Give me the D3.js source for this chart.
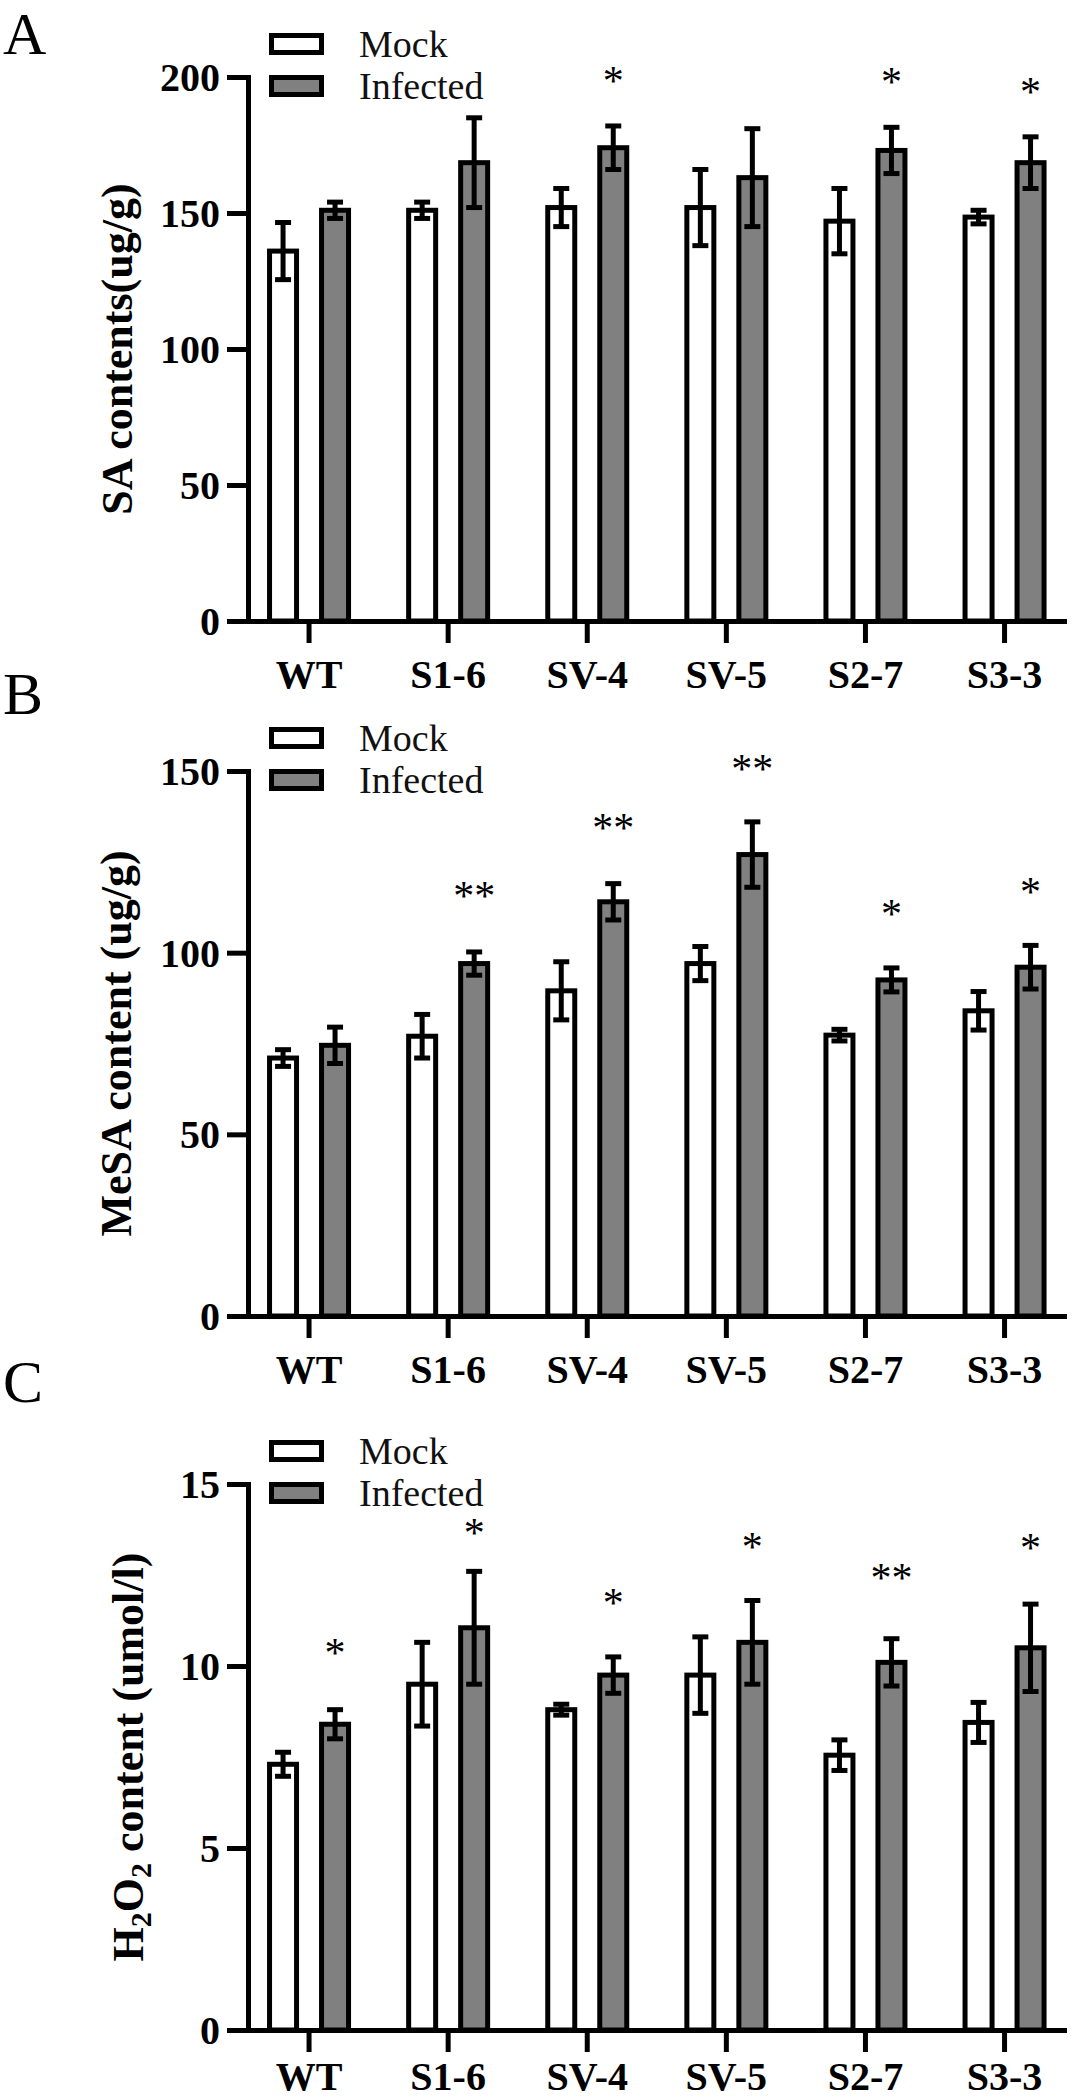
<!DOCTYPE html>
<html>
<head>
<meta charset="utf-8">
<script src="https://cdn.jsdelivr.net/npm/d3@7"></script>
<style>
  body { margin: 0; background: #fff; }
  svg { display: block; }
</style>
</head>
<body>
<div id="chart"></div>
<script>
// groups and series
var categories = ["WT", "S1-6", "SV-4", "SV-5", "S2-7", "S3-3"];
var series = ["Mock", "Infected"];

// A - SA contents (ug/g)
var saMock = [136, 151, 152, 152, 147, 148.5];
var saMockErr = [10.5, 3, 7, 14, 12, 2.5];
var saInfected = [151, 168.5, 174, 163, 173, 168.5];
var saInfectedErr = [3, 16.5, 8, 18, 8.5, 9.5];
var saStars = ["", "", "*", "", "*", "*"];
var saStarAt = [0, 0, 200.4, 0, 200, 196.3];
var saTicks = [0, 50, 100, 150, 200];

// B - MeSA content (ug/g)
var mesaMock = [71, 77, 89.5, 97, 77.3, 84];
var mesaMockErr = [2.3, 6, 8, 4.7, 1.6, 5.3];
var mesaInfected = [74.5, 97, 114, 127, 92.5, 96];
var mesaInfectedErr = [5, 3.2, 5, 9, 3.3, 6];
var mesaStars = ["", "**", "**", "**", "*", "*"];
var mesaStarAt = [0, 117.1, 135.7, 151.9, 112.1, 118.2];
var mesaTicks = [0, 50, 100, 150];

// C - H2O2 content (umol/l)
var h2o2Mock = [7.3, 9.5, 8.8, 9.75, 7.55, 8.45];
var h2o2MockErr = [0.33, 1.15, 0.15, 1.05, 0.42, 0.55];
var h2o2Infected = [8.4, 11.05, 9.75, 10.65, 10.1, 10.5];
var h2o2InfectedErr = [0.4, 1.55, 0.5, 1.15, 0.65, 1.2];
var h2o2Stars = ["*", "*", "*", "*", "**", "*"];
var h2o2StarAt = [10.49, 13.79, 11.87, 13.41, 12.55, 13.38];
var h2o2Ticks = [0, 5, 10, 15];

var serif = "'Liberation Serif', 'Times New Roman', Times, serif";
var fills = { "Mock": "#ffffff", "Infected": "#808080" };

var svg = d3.select("#chart")
  .append("svg")
    .attr("width", 1077)
    .attr("height", 2100);

var axisX = 248;      // y axis position
var barW = 27;

var x = d3.scaleBand()
  .domain(categories)
  .range([239.5, 1074.1]);

var x1 = d3.scaleBand()
  .domain(series)
  .range([-52, 52]);

var panels = [
  { letter: "A", letterY: 54, top: 77, zero: 621, labelY: 67, yMax: 200, ticks: saTicks,
    mock: saMock, mockErr: saMockErr, inf: saInfected, infErr: saInfectedErr,
    stars: saStars, starAt: saStarAt, titleX: 132,
    title: [{ t: "SA contents(ug/g)" }] },
  { letter: "B", letterY: 714, top: 771, zero: 1316, labelY: 67, yMax: 150, ticks: mesaTicks,
    mock: mesaMock, mockErr: mesaMockErr, inf: mesaInfected, infErr: mesaInfectedErr,
    stars: mesaStars, starAt: mesaStarAt, titleX: 131,
    title: [{ t: "MeSA content (ug/g)" }] },
  { letter: "C", letterY: 1402, top: 1484, zero: 2030, labelY: 60, yMax: 15, ticks: h2o2Ticks,
    mock: h2o2Mock, mockErr: h2o2MockErr, inf: h2o2Infected, infErr: h2o2InfectedErr,
    stars: h2o2Stars, starAt: h2o2StarAt, titleX: 143,
    title: [{ t: "H" }, { t: "2", sub: true }, { t: "O" }, { t: "2", sub: true }, { t: " content (umol/l)" }] }
];

panels.forEach(drawPanel);

function drawPanel(p) {
  var y = d3.scaleLinear()
    .domain([0, p.yMax])
    .range([p.zero, p.top]);

  var g = svg.append("g");

  var rows = categories.map(function(c, i) {
    return { cat: c, values: [
      { s: "Mock", v: p.mock[i], e: p.mockErr[i] },
      { s: "Infected", v: p.inf[i], e: p.infErr[i] }
    ] };
  });

  function cx(cat, s) {
    return x(cat) + x.bandwidth() / 2 + x1(s) + x1.bandwidth() / 2;
  }

  // bars
  var groups = g.selectAll(".grp")
    .data(rows)
    .enter()
    .append("g")
      .attr("class", "grp");

  groups.selectAll("rect")
    .data(function(d) { return d.values.map(function(v) { return Object.assign({ cat: d.cat }, v); }); })
    .enter()
    .append("rect")
      .attr("x", function(d) { return cx(d.cat, d.s) - barW / 2; })
      .attr("y", function(d) { return y(d.v); })
      .attr("width", barW)
      .attr("height", function(d) { return y(0) - y(d.v); })
      .attr("fill", function(d) { return fills[d.s]; })
      .attr("stroke", "#000")
      .attr("stroke-width", 5);

  // error bars
  var err = groups.selectAll(".err")
    .data(function(d) { return d.values.map(function(v) { return Object.assign({ cat: d.cat }, v); }); })
    .enter()
    .append("g")
      .attr("class", "err")
      .attr("stroke", "#000")
      .attr("stroke-width", 5);

  err.append("line")
    .attr("x1", function(d) { return cx(d.cat, d.s); })
    .attr("x2", function(d) { return cx(d.cat, d.s); })
    .attr("y1", function(d) { return y(d.v + d.e); })
    .attr("y2", function(d) { return y(d.v - d.e); });
  err.append("line")
    .attr("x1", function(d) { return cx(d.cat, d.s) - 8; })
    .attr("x2", function(d) { return cx(d.cat, d.s) + 8; })
    .attr("y1", function(d) { return y(d.v + d.e); })
    .attr("y2", function(d) { return y(d.v + d.e); });
  err.append("line")
    .attr("x1", function(d) { return cx(d.cat, d.s) - 8; })
    .attr("x2", function(d) { return cx(d.cat, d.s) + 8; })
    .attr("y1", function(d) { return y(d.v - d.e); })
    .attr("y2", function(d) { return y(d.v - d.e); });

  // significance stars over infected bars
  g.selectAll(".star")
    .data(categories.map(function(c, i) { return { cat: c, txt: p.stars[i], at: p.starAt[i] }; })
      .filter(function(d) { return d.txt !== ""; }))
    .enter()
    .append("text")
      .attr("class", "star")
      .attr("x", function(d) { return cx(d.cat, "Infected"); })
      .attr("y", function(d) { return y(d.at) + 19; })
      .attr("text-anchor", "middle")
      .style("font-family", serif)
      .style("font-size", "42px")
      .text(function(d) { return d.txt; });

  // y axis
  var ya = g.append("g")
    .attr("transform", "translate(" + axisX + ",0)")
    .call(d3.axisLeft(y).tickValues(p.ticks).tickSize(21).tickSizeOuter(21).tickPadding(7));
  ya.selectAll("path, line").attr("stroke", "#000").attr("stroke-width", 5);
  ya.selectAll("text")
    .attr("fill", "#000")
    .attr("dy", "0.34em")
    .style("font-family", serif)
    .style("font-weight", "bold")
    .style("font-size", "40px");

  // x axis
  var xa = g.append("g")
    .attr("transform", "translate(0," + p.zero + ")")
    .call(d3.axisBottom(x).tickSize(22).tickSizeOuter(0));
  xa.select(".domain").remove();
  xa.append("line")
    .attr("x1", axisX - 21)
    .attr("x2", 1067)
    .attr("y1", 0.5)
    .attr("y2", 0.5);
  xa.selectAll("line").attr("stroke", "#000").attr("stroke-width", 5);
  xa.selectAll("text")
    .attr("fill", "#000")
    .attr("y", p.labelY)
    .attr("dy", null)
    .style("font-family", serif)
    .style("font-weight", "bold")
    .style("font-size", "40px");

  // legend
  var leg = g.selectAll(".leg")
    .data(series)
    .enter()
    .append("g")
      .attr("class", "leg")
      .attr("transform", function(d, i) { return "translate(0," + (p.top - 33 + i * 42) + ")"; });
  leg.append("rect")
    .attr("x", 271.5)
    .attr("y", -8.5)
    .attr("width", 50)
    .attr("height", 17)
    .attr("fill", function(d) { return fills[d]; })
    .attr("stroke", "#000")
    .attr("stroke-width", 5);
  leg.append("text")
    .attr("x", 359)
    .attr("y", 13)
    .attr("fill", "#111")
    .style("font-family", serif)
    .style("font-size", "38px")
    .text(function(d) { return d; });

  // y axis title
  var tt = g.append("text")
    .attr("transform", "translate(" + p.titleX + "," + ((p.top + p.zero) / 2) + ") rotate(-90)")
    .attr("text-anchor", "middle")
    .attr("fill", "#000")
    .style("font-family", serif)
    .style("font-weight", "bold")
    .style("font-size", "44px");
  var shifted = false;
  p.title.forEach(function(part) {
    var ts = tt.append("tspan").text(part.t);
    if (part.sub) {
      ts.attr("dy", 8).style("font-size", "30px");
      shifted = true;
    } else if (shifted) {
      ts.attr("dy", -8);
      shifted = false;
    }
  });

  // panel letter
  g.append("text")
    .attr("x", 3)
    .attr("y", p.letterY)
    .attr("fill", "#000")
    .style("font-family", serif)
    .style("font-size", "60px")
    .text(p.letter);
}
</script>
</body>
</html>
